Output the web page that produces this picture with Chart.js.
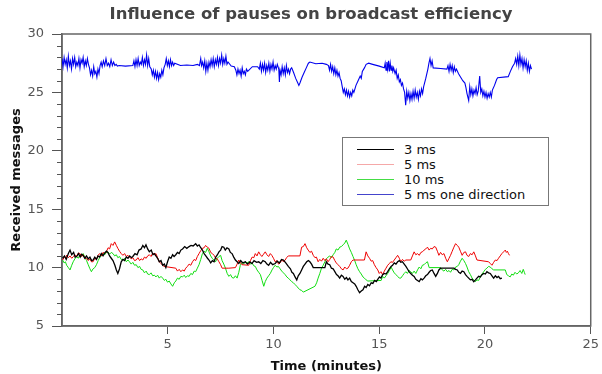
<!DOCTYPE html>
<html>
<head>
<meta charset="utf-8">
<script src="https://cdn.jsdelivr.net/npm/chart.js@4.4.1/dist/chart.umd.min.js"></script>
<style>
  html, body { margin: 0; padding: 0; background: #fff; }
  #wrap { position: relative; width: 602px; height: 374px; }
  #title { position: absolute; left: 0; width: 622px; top: 4px; text-align: center;
           font: bold 16.5px 'DejaVu Sans'; color: #444; }
  #legend { position: absolute; left: 342px; top: 137px; width: 205px; height: 67px;
            border: 1px solid #777; background: #fff; font: 13px 'DejaVu Sans'; color: #111; }
  #legend div { position: absolute; left: 0; height: 15px; line-height: 15px; }
  #legend span.l { position: absolute; left: 14px; top: 7px; width: 37px; height: 1px; }
  #legend span.t { position: absolute; left: 61px; top: 0; white-space: nowrap; }
</style>
</head>
<body>
<div id="wrap">
  <canvas id="chart" width="602" height="374"></canvas>
  <div id="title">Influence of pauses on broadcast efficiency</div>
  <div id="legend"></div>
</div>
<script>
// series labels and colours
let labels = ['3 ms', '5 ms', '10 ms', '5 ms one direction'];
let colors = ['#000000', '#ee0000', '#11dd11', '#0000ee'];
let widths = [1.3, 1, 1, 1.1];
let legendColors = ['#000000', '#f5a8a8', '#44dd44', '#4444cc'];

// [minutes, received messages]
let black = [[0.03,10.8],[0.12,11.0],[0.2,10.7],[0.3,11.2],[0.38,11.5],[0.46,11.1],[0.55,11.3],[0.62,10.9],[0.69,10.95],
  [0.78,11.2],[0.86,10.9],[0.93,11.15],[1.0,11.05],[1.08,10.8],[1.16,11.0],[1.24,10.75],[1.32,10.9],[1.4,10.6],[1.47,10.65],
  [1.55,10.9],[1.63,10.7],[1.7,11.0],[1.78,10.9],[1.86,11.2],[1.94,11.0],[2.02,11.25],[2.1,11.4],[2.17,11.3],[2.25,11.0],
  [2.33,10.8],[2.41,10.6],[2.5,10.2],[2.57,9.8],[2.64,9.5],[2.72,9.9],[2.8,10.5],[2.88,10.7],[2.96,10.6],[3.04,10.9],
  [3.12,10.8],[3.2,11.0],[3.28,10.85],[3.35,10.95],[3.45,11.2],[3.55,11.1],[3.64,11.5],[3.74,11.6],[3.82,11.9],[3.9,11.7],
  [3.97,11.95],[4.05,11.6],[4.13,11.35],[4.22,11.5],[4.3,11.1],[4.37,11.2],[4.44,11.0],[4.52,10.8],[4.6,10.5],[4.68,10.6],
  [4.76,10.2],[4.84,10.3],[4.91,10.0],[4.99,10.5],[5.07,10.9],[5.15,10.8],[5.23,11.1],[5.3,10.95],[5.38,11.1],[5.46,11.3],
  [5.54,11.2],[5.62,11.5],[5.7,11.6],[5.8,11.8],[5.9,11.65],[6.01,11.8],[6.1,11.9],[6.2,11.85],[6.32,12.05],[6.4,11.85],
  [6.48,11.95],[6.56,11.7],[6.64,11.5],[6.72,11.2],[6.8,11.0],[6.88,10.8],[6.95,10.65],[7.03,10.4],[7.11,10.6],[7.19,10.5],
  [7.27,10.9],[7.35,11.1],[7.42,11.35],[7.5,11.5],[7.57,11.8],[7.65,11.75],[7.72,11.5],[7.8,11.7],[7.89,11.6],[7.96,11.3],
  [8.04,11.2],[8.12,10.9],[8.2,10.65],[8.28,10.5],[8.36,10.35],[8.45,10.6],[8.55,10.4],[8.67,10.5],[8.77,10.3],[8.88,10.5],
  [8.98,10.35],[9.08,10.6],[9.2,10.45],[9.3,10.5],[9.4,10.35],[9.5,10.6],[9.61,10.5],[9.69,10.3],[9.77,10.2],[9.86,10.45],
  [9.96,10.25],[10.08,10.35],[10.18,10.55],[10.28,10.4],[10.38,10.7],[10.47,10.65],[10.58,10.4],[10.7,10.1],[10.8,9.9],
  [10.87,9.6],[10.94,9.5],[11.02,9.2],[11.1,8.95],[11.17,9.3],[11.25,9.5],[11.33,9.8],[11.41,10.1],[11.49,10.3],[11.57,10.5],
  [11.65,10.6],[11.72,10.5],[11.8,10.3],[11.88,10.0],[12.43,10.0],[12.5,10.5],[12.58,10.3],[12.66,10.25],[12.74,9.95],
  [12.82,9.9],[12.9,9.65],[12.98,9.4],[13.05,9.3],[13.13,9.1],[13.21,9.35],[13.29,9.25],[13.37,9.0],[13.45,9.15],[13.52,8.95],
  [13.6,9.1],[13.68,8.8],[13.76,8.7],[13.84,8.6],[13.91,8.4],[13.99,8.1],[14.07,7.85],[14.15,8.0],[14.23,8.1],[14.31,8.4],
  [14.38,8.3],[14.46,8.55],[14.54,8.45],[14.62,8.7],[14.7,8.65],[14.78,8.9],[14.86,8.8],[14.93,9.0],[15.01,9.2],[15.08,9.1],
  [15.16,9.4],[15.24,9.5],[15.32,9.45],[15.4,9.65],[15.48,9.9],[15.56,10.1],[15.63,10.2],[15.71,10.4],[15.79,10.3],
  [15.87,10.5],[15.95,10.6],[16.02,10.45],[16.1,10.5],[16.18,10.3],[16.26,10.1],[16.33,9.9],[16.41,9.65],[16.49,9.5],
  [16.57,9.35],[16.65,9.25],[16.73,9.0],[16.81,8.9],[16.89,8.8],[16.97,9.05],[17.04,8.95],[17.12,9.1],[17.2,9.3],[17.28,9.4],
  [17.36,9.6],[17.43,9.75],[17.51,9.8],[17.59,9.5],[17.67,9.25],[17.75,9.5],[17.82,9.8],[17.9,9.95],[18.53,9.95],[18.61,9.85],
  [18.69,9.8],[18.76,9.6],[18.84,9.5],[18.92,9.7],[19.0,9.65],[19.08,9.4],[19.15,9.25],[19.23,9.1],[19.31,8.95],[19.39,9.0],
  [19.47,8.8],[19.55,8.95],[19.62,9.1],[19.7,9.25],[19.78,9.2],[19.86,9.4],[19.94,9.5],[20.02,9.45],[20.09,9.65],[20.17,9.55],
  [20.25,9.5],[20.33,9.3],[20.41,9.1],[20.49,9.3],[20.57,9.15],[20.64,9.25],[20.72,9.05],[20.8,9.1]];

let red = [[0.03,10.65],[0.11,10.9],[0.18,10.8],[0.22,11.07],[0.3,10.85],[0.38,11.0],[0.46,10.8],[0.53,10.93],[0.61,11.1],
  [0.69,10.95],[0.77,11.25],[0.85,11.2],[0.93,10.95],[1.0,11.1],[1.08,10.8],[1.16,10.8],[1.24,10.6],[1.32,10.75],[1.39,10.5],
  [1.47,10.5],[1.55,10.8],[1.63,10.7],[1.7,11.05],[1.78,11.2],[1.86,11.0],[1.94,11.3],[2.02,11.2],[2.1,11.35],[2.18,11.7],
  [2.25,11.6],[2.33,12.05],[2.41,11.9],[2.49,12.2],[2.57,11.9],[2.64,11.65],[2.72,11.4],[2.8,11.2],[2.88,11.05],[2.96,11.2],
  [3.04,10.95],[3.12,11.05],[3.19,10.9],[3.27,10.75],[3.35,10.85],[3.43,10.6],[3.51,10.65],[3.59,10.85],[3.67,10.6],
  [3.74,10.75],[3.82,10.65],[3.9,10.9],[3.98,10.8],[4.05,11.0],[4.13,11.1],[4.21,10.95],[4.29,11.25],[4.37,11.1],[4.44,11.2],
  [4.52,10.85],[4.6,10.5],[4.68,10.35],[4.76,10.2],[4.83,10.1],[5.38,9.95],[5.46,9.7],[5.54,9.85],[5.62,9.65],[5.7,9.8],
  [5.78,9.7],[5.85,9.95],[5.93,10.1],[6.01,10.3],[6.09,10.2],[6.17,10.5],[6.25,10.7],[6.32,10.6],[6.4,10.95],[6.48,11.2],
  [6.56,11.45],[6.64,11.65],[6.72,11.7],[6.79,11.9],[6.87,11.75],[6.95,11.65],[7.03,11.3],[7.11,11.2],[7.19,11.05],
  [7.27,10.8],[7.34,10.75],[7.42,10.5],[7.5,10.25],[7.57,9.95],[7.89,9.95],[8.2,10.0],[8.28,10.3],[8.36,10.65],[8.44,10.4],
  [8.51,10.25],[8.83,10.2],[8.91,10.6],[8.99,10.9],[9.07,10.85],[9.14,11.2],[9.22,11.0],[9.3,11.35],[9.38,11.1],[9.45,10.95],
  [9.53,11.15],[9.61,11.35],[9.69,11.1],[9.77,10.95],[9.85,11.2],[9.92,11.05],[10.0,10.8],[10.08,10.5],[10.16,10.6],
  [10.24,10.3],[10.31,10.4],[10.39,10.65],[10.47,10.5],[10.55,10.65],[10.62,10.85],[10.7,11.0],[11.25,11.0],[11.33,11.75],
  [11.41,11.8],[11.49,12.05],[11.57,11.7],[11.64,11.5],[11.72,11.3],[11.8,11.4],[11.88,11.05],[11.96,10.85],[12.03,10.9],
  [12.11,10.5],[12.19,10.7],[12.27,10.55],[12.35,10.8],[12.43,10.6],[12.5,10.75],[12.58,10.5],[12.66,10.7],[12.74,10.95],
  [12.82,10.9],[12.9,10.6],[12.97,10.4],[13.05,10.25],[13.13,10.1],[13.21,9.9],[13.29,9.8],[13.37,10.05],[13.45,9.9],
  [13.52,9.95],[13.6,10.2],[13.68,10.5],[13.76,10.65],[14.3,10.65],[14.38,11.35],[14.46,11.0],[14.54,10.8],[14.62,10.55],
  [14.69,10.6],[14.77,10.25],[14.85,10.0],[14.93,9.8],[15.0,9.5],[15.08,9.65],[15.16,9.4],[15.24,9.7],[15.32,9.95],
  [15.4,10.2],[15.48,10.35],[15.55,10.5],[15.63,10.45],[15.71,10.65],[15.79,10.85],[15.87,11.05],[15.95,10.8],[16.02,10.5],
  [16.1,10.7],[16.18,10.55],[16.26,10.65],[16.49,10.65],[16.57,11.0],[16.65,11.35],[16.73,11.1],[16.81,11.2],[16.89,11.05],
  [16.97,11.3],[17.04,11.35],[17.12,11.5],[17.2,11.6],[17.28,11.75],[17.36,11.5],[17.43,11.65],[17.51,11.6],[17.59,11.8],
  [17.67,11.75],[17.75,11.4],[17.82,11.05],[17.9,11.3],[17.98,11.1],[18.06,11.2],[18.14,10.8],[18.22,10.5],[18.3,10.8],
  [18.37,11.05],[18.45,11.4],[18.53,11.75],[18.61,12.05],[18.69,11.9],[18.76,11.75],[18.84,11.4],[18.92,11.05],[19.0,11.3],
  [19.08,11.35],[19.15,11.05],[19.23,10.95],[19.31,11.2],[19.39,11.1],[19.47,11.35],[19.55,11.0],[19.62,10.65],[20.17,10.5],
  [20.25,10.35],[20.33,10.2],[20.41,10.45],[20.49,10.65],[20.57,10.6],[20.64,10.8],[20.72,11.0],[20.8,11.2],[20.88,11.35],
  [20.96,11.5],[21.01,11.3],[21.06,11.4],[21.11,11.2],[21.16,11.05]];

let green = [[0.03,10.65],[0.1,10.4],[0.16,10.5],[0.22,10.2],[0.3,10.0],[0.38,9.8],[0.46,10.2],[0.53,10.5],[0.61,10.75],
  [0.69,10.95],[0.77,10.8],[0.85,11.1],[0.93,11.0],[1.0,11.2],[1.08,10.9],[1.16,10.6],[1.24,10.25],[1.32,9.9],[1.39,9.65],
  [1.47,9.9],[1.55,10.0],[1.63,10.25],[1.71,10.6],[1.78,10.85],[1.86,11.0],[1.94,11.2],[2.02,11.1],[2.1,11.3],[2.17,11.35],
  [2.25,11.15],[2.33,11.3],[2.41,11.2],[2.49,11.0],[2.57,11.1],[2.64,10.85],[2.72,10.95],[2.8,10.7],[2.88,10.65],[2.96,10.8],
  [3.04,10.5],[3.12,10.65],[3.19,10.5],[3.27,10.3],[3.35,10.45],[3.43,10.2],[3.51,10.25],[3.59,10.0],[3.67,10.1],[3.74,9.85],
  [3.82,9.8],[3.9,9.55],[3.98,9.7],[4.05,9.45],[4.13,9.4],[4.21,9.55],[4.29,9.3],[4.37,9.35],[4.44,9.2],[4.52,9.35],[4.6,9.1],
  [4.68,9.25],[4.76,9.1],[4.84,8.9],[4.91,9.0],[4.99,8.75],[5.07,8.85],[5.15,8.6],[5.23,8.4],[5.31,8.7],[5.38,8.85],[5.46,9.1],
  [5.54,9.0],[5.62,9.25],[5.7,9.2],[5.78,9.35],[5.85,9.15],[5.93,9.3],[6.01,9.25],[6.09,9.5],[6.17,9.4],[6.25,9.7],[6.32,9.65],
  [6.4,9.95],[6.48,10.25],[6.56,10.7],[6.64,11.2],[6.72,11.4],[6.79,11.3],[6.87,11.65],[6.95,11.35],[7.03,11.0],[7.1,10.8],
  [7.18,10.65],[7.26,10.5],[7.34,10.8],[7.42,10.95],[7.5,11.05],[7.57,10.6],[7.65,10.3],[7.73,9.95],[7.81,9.5],[7.89,9.25],
  [7.97,9.4],[8.04,9.15],[8.12,9.1],[8.2,9.3],[8.28,9.1],[8.36,9.6],[8.43,10.2],[8.51,10.45],[8.59,10.3],[8.67,10.5],
  [8.75,10.4],[8.83,10.5],[8.91,10.3],[8.99,10.4],[9.07,10.15],[9.14,10.1],[9.22,9.8],[9.3,9.6],[9.38,9.4],[9.46,8.9],
  [9.54,8.4],[9.61,8.8],[9.69,9.1],[9.77,9.3],[9.85,9.5],[9.93,9.8],[10.0,10.0],[10.08,10.2],[10.16,10.05],[10.23,10.1],
  [10.31,9.9],[10.39,9.7],[10.47,9.55],[10.55,9.4],[10.63,9.2],[10.7,9.1],[10.78,8.95],[10.86,8.8],[10.94,8.7],[11.02,8.55],
  [11.1,8.4],[11.17,8.25],[11.25,8.1],[11.33,8.05],[11.41,7.9],[11.96,8.4],[12.04,8.7],[12.11,9.1],[12.19,9.5],[12.27,9.95],
  [12.35,10.2],[12.43,10.5],[12.5,10.75],[12.58,10.9],[12.66,11.0],[12.74,10.85],[12.82,11.1],[12.9,11.3],[12.97,11.6],
  [13.05,11.5],[13.13,11.75],[13.21,11.8],[13.29,11.95],[13.37,12.1],[13.44,12.35],[13.52,12.0],[13.6,11.6],[13.68,11.3],
  [13.76,10.95],[13.84,10.6],[13.91,10.25],[13.99,9.9],[14.07,9.65],[14.15,9.45],[14.23,9.2],[14.3,9.1],[14.38,8.95],
  [14.46,8.85],[15.09,8.9],[15.16,9.25],[15.24,9.1],[15.32,9.3],[15.4,9.5],[15.48,9.75],[15.56,10.05],[15.63,9.8],[15.71,9.55],
  [15.79,9.4],[15.87,9.25],[15.95,9.1],[16.02,9.1],[16.1,9.3],[16.18,9.5],[16.26,9.65],[16.33,9.5],[16.41,9.75],[16.49,9.65],
  [16.57,9.5],[16.65,9.7],[16.73,9.5],[16.81,9.8],[16.89,10.05],[16.97,9.9],[17.04,10.2],[17.12,10.25],[17.2,10.4],
  [17.28,10.5],[17.36,10.0],[17.9,10.0],[17.98,9.8],[18.06,9.7],[18.14,9.85],[18.22,9.65],[18.3,9.75],[18.37,9.6],
  [18.45,9.85],[18.53,9.8],[18.61,10.05],[18.69,10.1],[18.76,10.25],[18.84,10.55],[18.92,10.8],[19.0,10.6],[19.08,10.35],
  [19.15,10.05],[19.23,9.65],[19.31,9.4],[19.39,9.1],[19.47,8.95],[19.55,8.8],[19.62,8.95],[19.7,8.9],[19.78,9.2],
  [19.86,9.45],[19.94,9.65],[20.02,9.85],[20.09,9.95],[20.17,10.1],[20.25,10.05],[20.33,9.9],[20.41,9.8],[20.96,9.8],
  [21.03,9.4],[21.11,9.3],[21.19,9.2],[21.27,9.45],[21.34,9.35],[21.42,9.6],[21.5,9.45],[21.58,9.55],[21.66,9.75],
  [21.74,9.5],[21.81,9.85],[21.86,9.6],[21.9,9.4]];

let blue = [[0.0,27.9],[0.05,27.2],[0.1,28.0],[0.15,27.4],[0.2,27.8],[0.25,27.1],[0.3,28.1],[0.35,27.3],[0.4,27.7],
  [0.45,27.0],[0.5,27.9],[0.55,27.4],[0.6,28.0],[0.65,27.2],[0.7,27.6],[0.75,27.3],[0.8,27.9],[0.85,27.1],[0.9,27.8],
  [0.95,27.5],[1.0,28.0],[1.05,27.2],[1.1,27.7],[1.15,27.3],[1.2,27.9],[1.25,27.4],
  [1.3,27.1],[1.35,26.5],[1.4,26.9],[1.45,26.4],[1.5,27.2],[1.55,26.6],[1.6,26.8],[1.65,26.3],[1.7,27.0],[1.75,26.6],
  [1.8,27.3],[1.85,27.6],[1.9,27.2],[1.96,27.7],[2.02,27.3],[2.08,27.9],[2.14,27.3],[2.2,27.5],[2.26,27.2],[2.32,27.8],
  [2.38,27.3],[2.44,27.6],[2.5,27.3],[2.56,27.4],[2.62,27.25],[2.7,27.3],[3.0,27.25],[3.35,27.3],
  [3.4,27.7],[3.45,27.2],[3.5,27.8],[3.55,27.3],[3.6,27.9],[3.65,27.3],[3.7,27.6],[3.75,27.4],[3.8,28.0],[3.85,27.3],
  [3.9,27.8],[3.95,27.4],[4.0,28.2],[4.05,27.3],[4.1,27.9],[4.15,27.2],
  [4.22,27.0],[4.27,26.5],[4.32,26.9],[4.37,26.3],[4.42,26.8],[4.47,26.2],[4.52,26.7],[4.57,26.1],[4.62,26.6],
  [4.67,26.3],[4.72,26.9],[4.77,26.5],[4.82,27.1],
  [4.88,27.4],[4.93,27.9],[4.98,27.3],[5.03,27.7],[5.08,27.2],[5.13,27.8],[5.18,27.3],[5.23,27.6],[5.28,27.3],[5.33,27.5],
  [5.6,27.3],[5.9,27.35],[6.2,27.3],[6.4,27.4],[6.5,27.3],[6.56,27.9],[6.6,27.3],
  [6.65,27.6],[6.7,27.1],[6.75,27.7],[6.8,26.8],[6.85,27.5],[6.9,26.9],[6.95,27.6],[7.0,27.2],[7.05,27.8],[7.1,27.3],
  [7.15,27.9],[7.2,27.2],[7.25,27.8],[7.3,27.4],[7.35,28.0],[7.4,27.3],[7.45,27.9],[7.5,27.5],[7.55,28.2],[7.6,27.4],
  [7.65,27.9],[7.7,27.5],[7.75,28.1],[7.8,27.4],[7.85,27.6],[8.0,27.25],[8.15,27.2],
  [8.22,26.9],[8.27,26.5],[8.32,27.0],[8.37,26.6],[8.42,26.9],[8.47,26.4],[8.52,27.1],[8.57,26.6],[8.62,26.8],
  [8.67,26.5],[8.72,27.0],[8.78,26.8],[9.0,27.2],[9.25,27.2],
  [9.33,27.0],[9.38,27.5],[9.43,26.8],[9.48,27.4],[9.53,26.9],[9.58,27.5],[9.63,26.7],[9.68,27.3],[9.73,26.9],
  [9.78,27.5],[9.83,26.8],[9.88,27.4],[9.93,27.0],[9.98,27.6],[10.03,26.9],[10.08,27.3],[10.13,27.0],[10.18,27.4],
  [10.25,27.0],[10.28,25.9],[10.31,26.9],[10.36,26.5],[10.41,27.2],[10.46,26.6],[10.51,27.1],[10.56,26.5],[10.61,27.3],
  [10.66,26.7],[10.71,27.0],[10.76,26.6],[10.81,27.0],[10.86,27.1],
  [10.95,26.7],[11.05,26.2],[11.15,25.8],[11.2,25.6],[11.25,25.8],[11.35,26.3],[11.45,26.7],[11.55,27.1],[11.65,27.5],
  [11.72,27.6],[12.0,27.45],[12.3,27.5],[12.5,27.4],
  [12.6,27.3],[12.65,26.9],[12.7,27.4],[12.75,26.8],[12.8,27.2],[12.85,26.6],[12.9,27.1],[12.95,26.5],[13.0,26.9],
  [13.05,26.4],[13.1,26.7],[13.15,26.2],[13.2,26.0],
  [13.25,25.5],[13.3,25.0],[13.35,25.3],[13.4,24.8],[13.45,25.2],[13.5,24.7],[13.55,25.1],[13.6,24.6],[13.65,25.0],
  [13.7,24.7],[13.75,25.2],[13.8,25.0],[13.9,25.6],[14.0,26.0],[14.1,26.4],[14.15,26.2],[14.2,26.8],[14.3,27.1],
  [14.38,27.4],[14.5,27.5],[14.69,27.4],[15.0,27.25],[15.24,27.1],
  [15.28,27.5],[15.32,26.9],[15.36,27.6],[15.4,27.0],[15.44,27.7],[15.48,26.8],[15.52,27.5],[15.56,26.9],[15.6,27.3],
  [15.64,26.8],[15.68,27.1],[15.75,26.6],[15.8,26.9],[15.85,26.2],[15.9,26.5],[15.95,25.9],[16.0,26.1],[16.05,25.6],
  [16.1,25.8],[16.15,25.3],
  [16.2,25.0],[16.25,23.9],[16.3,25.1],[16.35,24.5],[16.4,25.0],[16.45,24.3],[16.5,24.9],[16.55,24.4],[16.6,25.1],
  [16.65,24.5],[16.7,25.2],[16.75,24.6],[16.8,25.0],[16.85,24.4],[16.9,25.1],[16.95,24.7],[17.0,25.3],[17.05,24.9],
  [17.1,25.5],[17.2,26.2],[17.3,27.0],[17.35,27.5],[17.4,27.9],[17.45,27.3],[17.5,27.7],[17.55,27.1],[17.9,27.05],
  [18.2,27.0],
  [18.25,27.3],[18.3,26.8],[18.35,27.4],[18.4,26.9],[18.45,27.3],[18.5,26.7],[18.55,27.2],[18.6,26.8],[18.65,27.0],
  [18.75,26.6],[18.85,26.3],[18.95,26.0],[19.05,25.8],
  [19.1,25.4],[19.15,24.9],[19.23,24.3],[19.28,25.5],[19.33,24.8],[19.38,25.3],[19.43,24.7],[19.48,25.2],[19.53,24.9],
  [19.58,25.4],[19.63,24.8],[19.68,25.1],[19.75,26.4],[19.8,25.0],[19.85,25.3],[19.9,24.7],[19.95,25.1],[20.0,24.6],
  [20.05,25.0],[20.1,24.5],[20.15,24.9],[20.2,24.6],[20.25,25.0],[20.3,24.6],[20.35,25.2],[20.45,25.6],[20.55,26.1],
  [20.6,26.25],[21.1,26.35],[21.2,26.8],[21.3,27.2],[21.4,27.5],[21.45,27.9],
  [21.5,27.4],[21.55,28.1],[21.6,27.3],[21.65,28.2],[21.7,27.4],[21.75,27.9],[21.8,27.1],[21.85,27.8],[21.9,27.2],
  [21.95,27.7],[22.0,26.9],[22.05,27.5],[22.1,26.8],[22.15,27.3],[22.2,27.0]];

let series = [black, red, green, blue];

// box around the plot and short minor ticks on y
const framePlugin = {
  id: 'frame',
  beforeDatasetsDraw(chart) {
    const {ctx, chartArea: a, scales: {y}} = chart;
    ctx.save();
    ctx.strokeStyle = '#666';
    ctx.lineWidth = 1.5;
    ctx.strokeRect(a.left, a.top, a.right - a.left, a.bottom - a.top);
    ctx.lineWidth = 1;
    ctx.strokeStyle = '#555';
    ctx.beginPath();
    y.ticks.forEach(t => {
      if (t.value % 5 !== 0) {
        let py = Math.round(y.getPixelForValue(t.value)) + 0.5;
        ctx.moveTo(a.left - 5, py);
        ctx.lineTo(a.left, py);
      }
    });
    ctx.stroke();
    ctx.restore();
  }
};

Chart.defaults.font.family = 'DejaVu Sans';

new Chart(document.getElementById('chart'), {
  type: 'line',
  data: {
    datasets: series.map((s, i) => ({
      label: labels[i],
      data: s.map(p => ({x: p[0], y: p[1]})),
      borderColor: colors[i],
      borderWidth: widths[i],
      pointRadius: 0,
      tension: 0,
      fill: false
    }))
  },
  options: {
    responsive: false,
    animation: false,
    layout: {padding: {top: 34, right: 9, bottom: 0, left: 0}},
    plugins: {
      legend: {display: false},
      tooltip: {enabled: false},
      title: {display: false}
    },
    scales: {
      x: {
        type: 'linear', min: 0, max: 25,
        afterFit: s => { s.height = 48; },
        ticks: {stepSize: 5, color: '#555', font: {size: 13}, padding: 3,
                callback: v => v === 0 ? '' : v},
        grid: {drawOnChartArea: false, tickLength: 8,
               tickColor: c => (c.tick && c.tick.value === 0) ? 'rgba(0,0,0,0)' : '#555'},
        border: {color: '#666', width: 1.5},
        title: {display: true, text: 'Time (minutes)', color: '#111',
                font: {size: 13, weight: 'bold'}, padding: {top: 0, bottom: 0}}
      },
      y: {
        min: 5, max: 30,
        afterFit: s => { s.width = 62; },
        ticks: {stepSize: 1, autoSkip: false, color: '#555', font: {size: 13}, padding: 8,
                callback: v => v % 5 === 0 ? v : ''},
        grid: {drawOnChartArea: false, tickLength: 10,
               tickColor: c => (c.tick && c.tick.value % 5 === 0) ? '#555' : 'rgba(0,0,0,0)'},
        border: {color: '#666', width: 1.5},
        title: {display: true, text: 'Received messages', color: '#111',
                font: {size: 13, weight: 'bold'}, padding: {top: 9, bottom: 0}}
      }
    }
  },
  plugins: [framePlugin]
});

// legend box built from the same labels
let legend = document.getElementById('legend');
labels.forEach((name, i) => {
  let row = document.createElement('div');
  row.style.top = (4 + i * 15) + 'px';
  row.innerHTML = '<span class="l" style="background:' + legendColors[i] + '"></span><span class="t">' + name + '</span>';
  legend.appendChild(row);
});
</script>
</body>
</html>
